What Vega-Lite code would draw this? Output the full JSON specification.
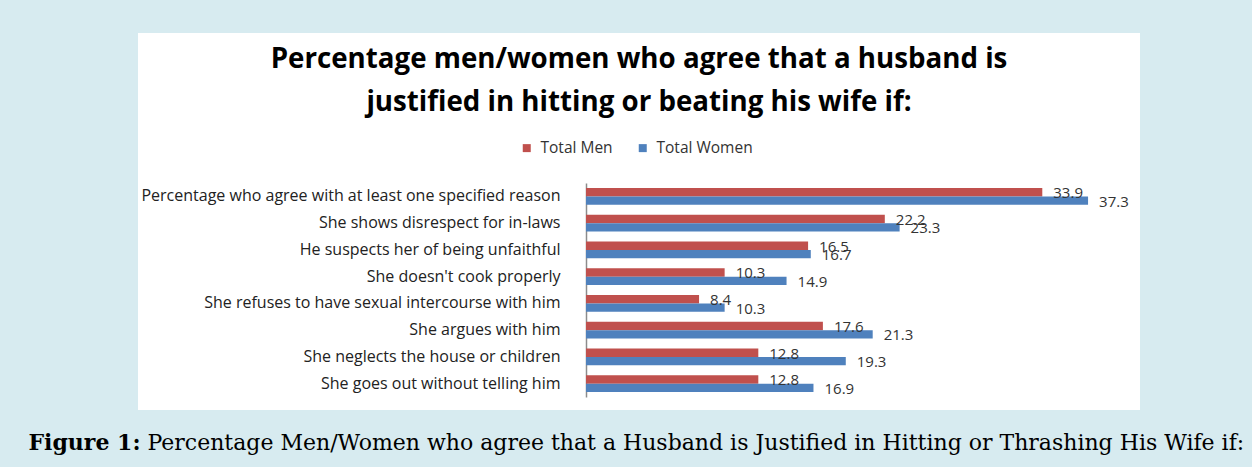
{
  "$schema": "https://vega.github.io/schema/vega-lite/v6.json",
  "width": 1002,
  "height": 377,
  "autosize": "none",
  "padding": {"left": 138, "top": 33, "right": 112, "bottom": 57},
  "background": "#d7ebf0",
  "config": {
    "view": {"fill": "white", "stroke": null},
    "font": "Open Sans"
  },
  "title": {
    "text": ["Percentage men/women who agree that a husband is", "justified in hitting or beating his wife if:"],
    "font": "Open Sans",
    "fontSize": 27.7,
    "fontWeight": "bold",
    "color": "#000000",
    "anchor": "middle",
    "frame": "group",
    "offset": -84,
    "lineHeight": 43
  },
  "data": {
    "values": [
      {"reason": "Percentage who agree with at least one specified reason", "group": "Total Men", "value": 33.9},
      {"reason": "Percentage who agree with at least one specified reason", "group": "Total Women", "value": 37.3},
      {"reason": "She shows disrespect for in-laws", "group": "Total Men", "value": 22.2},
      {"reason": "She shows disrespect for in-laws", "group": "Total Women", "value": 23.3},
      {"reason": "He suspects her of being unfaithful", "group": "Total Men", "value": 16.5},
      {"reason": "He suspects her of being unfaithful", "group": "Total Women", "value": 16.7},
      {"reason": "She doesn't cook properly", "group": "Total Men", "value": 10.3},
      {"reason": "She doesn't cook properly", "group": "Total Women", "value": 14.9},
      {"reason": "She refuses to have sexual intercourse with him", "group": "Total Men", "value": 8.4},
      {"reason": "She refuses to have sexual intercourse with him", "group": "Total Women", "value": 10.3},
      {"reason": "She argues with him", "group": "Total Men", "value": 17.6},
      {"reason": "She argues with him", "group": "Total Women", "value": 21.3},
      {"reason": "She neglects the house or children", "group": "Total Men", "value": 12.8},
      {"reason": "She neglects the house or children", "group": "Total Women", "value": 19.3},
      {"reason": "She goes out without telling him", "group": "Total Men", "value": 12.8},
      {"reason": "She goes out without telling him", "group": "Total Women", "value": 16.9}
    ]
  },
  "encoding": {
    "y": {
      "field": "reason",
      "type": "nominal",
      "sort": null,
      "scale": {"range": [150, 364], "paddingInner": 0.38, "paddingOuter": 0.19},
      "axis": {
        "orient": "left",
        "offset": -448,
        "title": "Figure 1:",
        "titleAngle": 0,
        "titleX": -558,
        "titleY": 416,
        "titleAlign": "left",
        "titleBaseline": "alphabetic",
        "titleFont": "DejaVu Serif",
        "titleFontSize": 22,
        "titleFontWeight": "bold",
        "titleColor": "#000000",
        "labelFont": "Open Sans",
        "labelFontSize": 16,
        "labelColor": "#222222",
        "labelPadding": 26,
        "labelLimit": 600,
        "ticks": false,
        "grid": false,
        "domainColor": "#8c8c8c",
        "domainWidth": 1.5
      }
    },
    "x": {
      "field": "value",
      "type": "quantitative",
      "scale": {"domain": [0, 40], "range": [448, 986.4], "nice": false, "zero": true},
      "axis": {
        "orient": "bottom",
        "labels": false,
        "ticks": false,
        "domain": false,
        "grid": false,
        "title": "Percentage Men/Women who agree that a Husband is Justified in Hitting or Thrashing His Wife if:",
        "titleX": 9,
        "titleY": 39,
        "titleAnchor": "start",
        "titleAlign": "left",
        "titleBaseline": "alphabetic",
        "titleFont": "DejaVu Serif",
        "titleFontSize": 22,
        "titleFontWeight": "normal",
        "titleColor": "#000000",
        "titleLimit": 1200
      }
    },
    "yOffset": {"field": "group", "type": "nominal", "sort": ["Total Men", "Total Women"], "scale": {"paddingInner": 0, "paddingOuter": 0}}
  },
  "layer": [
    {
      "mark": {"type": "bar"},
      "encoding": {
        "color": {
          "field": "group",
          "type": "nominal",
          "scale": {"domain": ["Total Men", "Total Women"], "range": ["#c0504d", "#4f81bd"]},
          "legend": {
            "orient": "none",
            "legendX": 381,
            "legendY": 107,
            "direction": "horizontal",
            "title": null,
            "symbolType": "square",
            "symbolSize": 64,
            "symbolStrokeWidth": 0,
            "labelFont": "Open Sans",
            "labelFontSize": 15.5,
            "labelColor": "#333333",
            "labelOffset": 6,
            "columnPadding": 22,
            "padding": 0
          }
        }
      }
    },
    {
      "mark": {"type": "text", "align": "left", "baseline": "middle", "dx": 11, "dy": 1, "font": "Open Sans", "fontSize": 15, "color": "#333333"},
      "encoding": {
        "text": {"field": "value", "type": "quantitative", "format": ".1f"}
      }
    }
  ]
}
